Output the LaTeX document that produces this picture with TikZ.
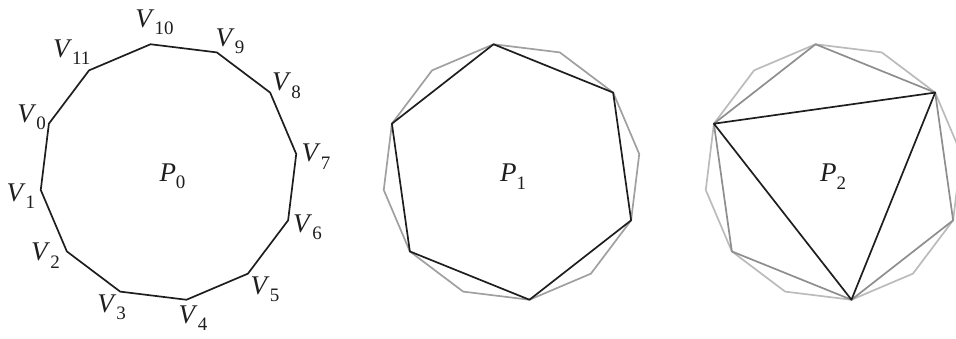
\documentclass[tikz,border=0pt]{standalone}
\usepackage{fontspec}
\setmainfont{Liberation Serif}
\usetikzlibrary{calc}
\definecolor{ink}{HTML}{1E1E1E}
\definecolor{midgray}{HTML}{8E8E8E}
\definecolor{sgray}{HTML}{A0A0A0}
\definecolor{ltgray}{HTML}{BBBBBB}
\tikzset{
  blk/.style={draw=ink, line width=1.7pt, line join=round},
  gry/.style={draw=midgray, line width=1.7pt, line join=round},
  sgry/.style={draw=sgray, line width=1.7pt, line join=round},
  lgry/.style={draw=ltgray, line width=1.7pt, line join=round},
  lab/.style={font=\fontsize{27}{29}\selectfont, inner sep=0pt, text=ink},
}
\newcommand\vsub[2]{\textit{#1}\raisebox{-7.4pt}{\fontsize{19}{19}\selectfont #2}}
\begin{document}
\begin{tikzpicture}[x=1pt,y=-1pt]
\useasboundingbox (0,0) rectangle (956,338);
\clip (0,0) rectangle (956,338);
\foreach \p/\cx in {a/168.5, b/511.5, c/833.5}{
  \foreach \k in {0,...,11}{
    \coordinate (\p\k) at ($(\cx,172)+(-158-30*\k:129)$);
  }
}
% P0
\draw[blk] (a0) \foreach \k in {1,...,11}{ -- (a\k)} -- cycle;
% P1
\draw[sgry] (b0) \foreach \k in {1,...,11}{ -- (b\k)} -- cycle;
\draw[blk] (b0) -- (b2) -- (b4) -- (b6) -- (b8) -- (b10) -- cycle;
% P2
\draw[lgry] (c0) \foreach \k in {1,...,11}{ -- (c\k)} -- cycle;
\draw[gry] (c0) -- (c2) -- (c4) -- (c6) -- (c8) -- (c10) -- cycle;
\draw[blk] (c0) -- (c4) -- (c8) -- cycle;
% labels
\node[lab] (l0)  at (31.7,117)   {\vsub{V}{0}};
\node[lab] (l1)  at (20.8,196)   {\vsub{V}{1}};
\node[lab] (l2)  at (45.5,255.8) {\vsub{V}{2}};
\node[lab] (l3)  at (111.7,307.5){\vsub{V}{3}};
\node[lab] (l4)  at (193,318)    {\vsub{V}{4}};
\node[lab] (l5)  at (265,289.5)  {\vsub{V}{5}};
\node[lab] (l6)  at (307.5,227.5){\vsub{V}{6}};
\node[lab] (l7)  at (316,156.5)  {\vsub{V}{7}};
\node[lab] (l8)  at (286.5,85.7) {\vsub{V}{8}};
\node[lab] (l9)  at (230,41.5)   {\vsub{V}{9}};
\node[lab] (l10) at (154.5,22.5) {\vsub{V}{10}};
\node[lab] (l11) at (71.7,52)    {\vsub{V}{11}};
\node[lab] (p0) at (172.5,176.5) {\vsub{P}{0}};
\node[lab] (p1) at (513,176.7)   {\vsub{P}{1}};
\node[lab] (p2) at (833,176.7)   {\vsub{P}{2}};
\end{tikzpicture}
\end{document}
